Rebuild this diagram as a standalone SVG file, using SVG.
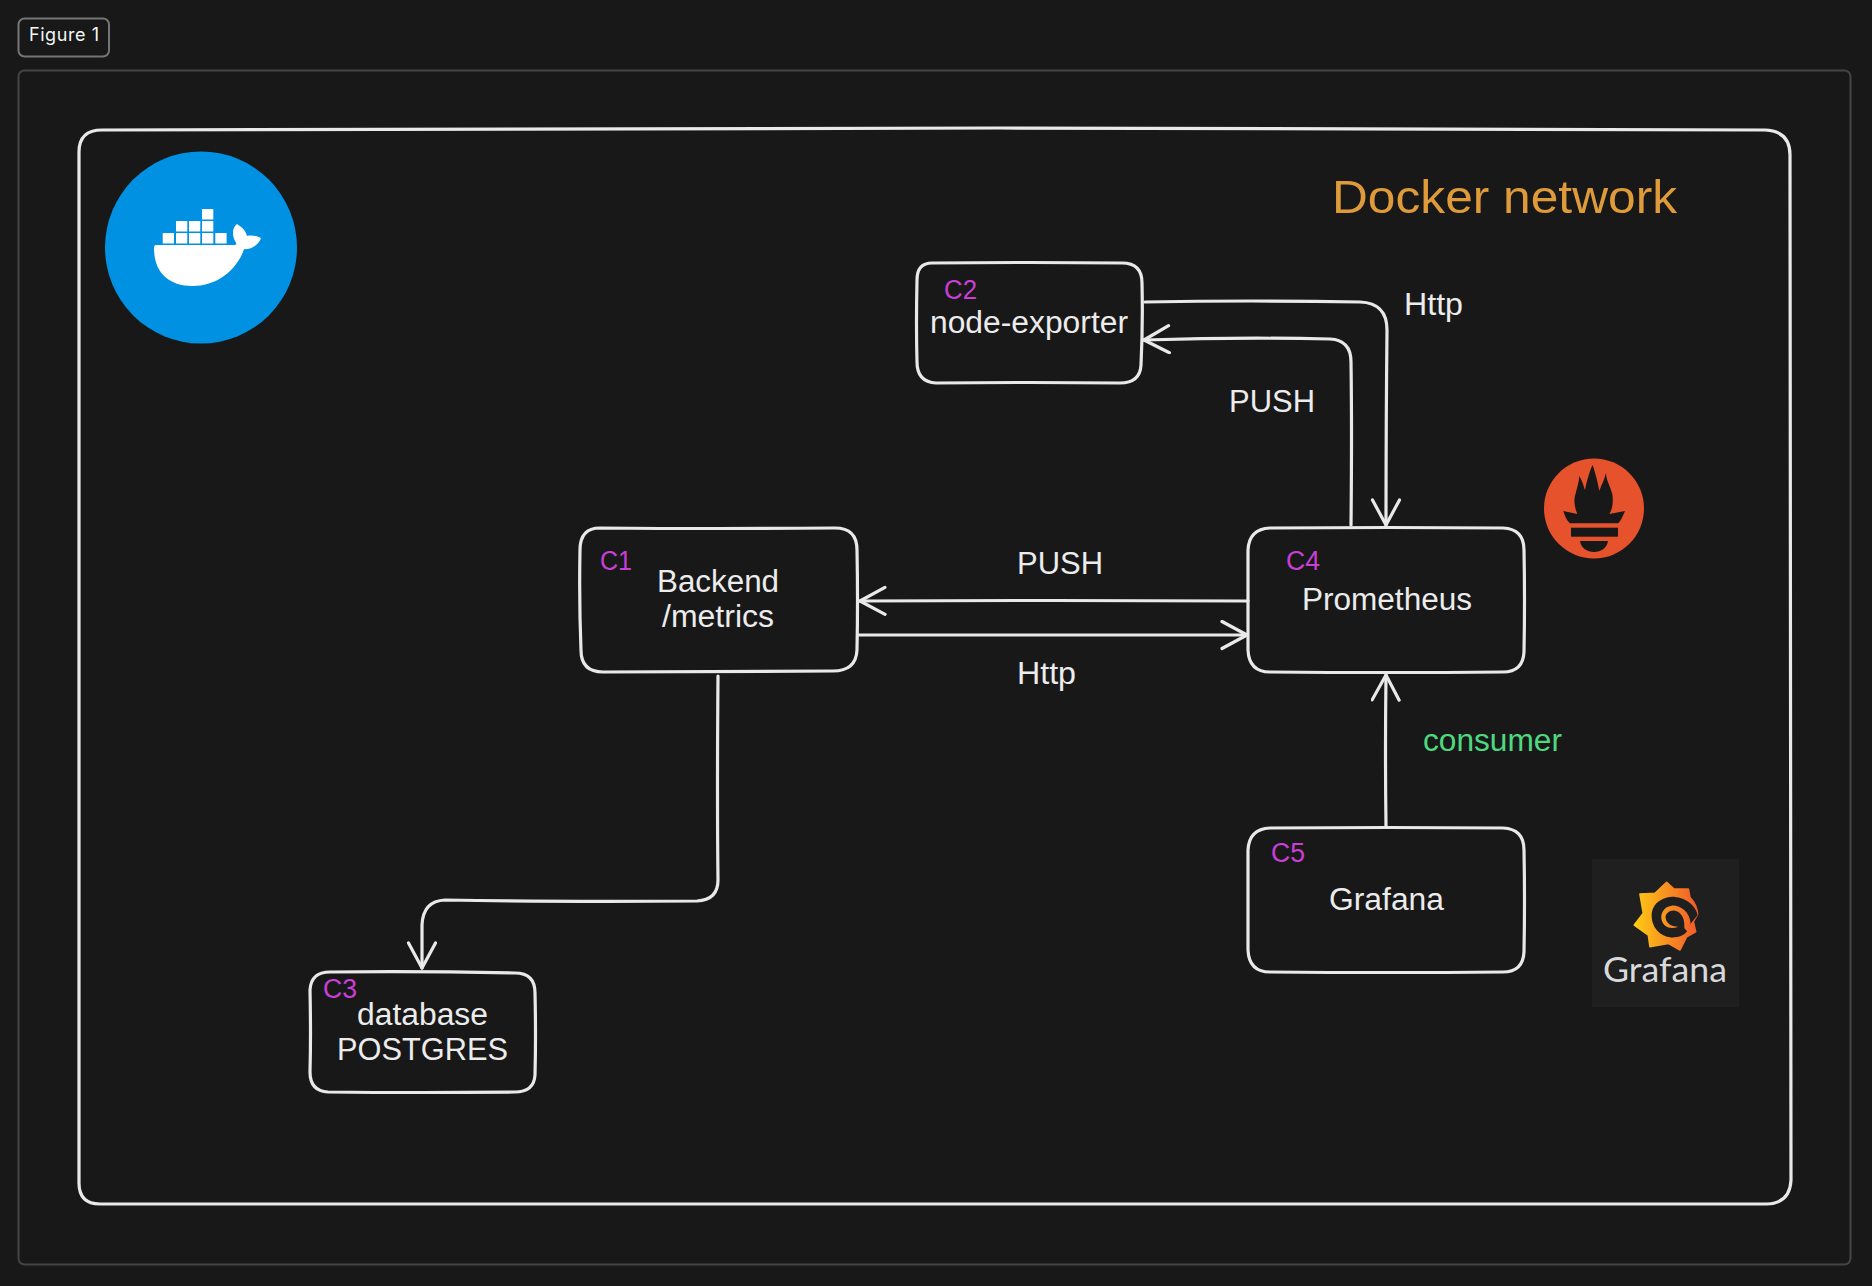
<svg xmlns="http://www.w3.org/2000/svg" width="1872" height="1286" viewBox="0 0 1872 1286">
<style>
.sk{fill:none;stroke:#e9e9e9;stroke-width:3.200;stroke-linecap:round;stroke-linejoin:round}
.t{font-family:"Liberation Sans",Arial,sans-serif;font-size:31px;fill:#ececec}
.c{font-family:"Liberation Sans",Arial,sans-serif;font-size:27px;fill:#c93fd6}
</style>
<defs>
<marker id="arrow" markerUnits="userSpaceOnUse" markerWidth="34" markerHeight="34" refX="27" refY="15" orient="auto">
<path d="M2 1.500 L27 15 L2 28.500" fill="none" stroke="#e9e9e9" stroke-width="3.200" stroke-linecap="round" stroke-linejoin="round"/>
</marker>
<linearGradient id="gr" gradientUnits="userSpaceOnUse" x1="28" x2="217" y1="0" y2="0"><stop offset="0" stop-color="#ffcb15"/><stop offset="1" stop-color="#f15a2b"/></linearGradient>
</defs>
<rect width="1872" height="1286" fill="#181818"/>
<g id="figure-badge">
<rect x="18.500" y="18.500" width="90.500" height="38" rx="6" fill="none" stroke="#757575" stroke-width="2"/>
<text x="29" y="41" font-family="Inter,sans-serif" font-size="18" fill="#f5f5f5" textLength="70">Figure 1</text>
</g>
<rect id="frame" x="18.500" y="70.500" width="1832" height="1194" rx="6" fill="none" stroke="#444" stroke-width="2"/>
<g id="docker-network">
<path class="sk" d="M102 130 Q600 127 1000 128 Q1400 128 1765 130 Q1790 131 1790 155 Q1792 600 1791 1180 Q1790 1203 1767 1204 Q1400 1205 1000 1204 Q500 1203 100 1204 Q79 1204 79 1183 Q77 700 79 152 Q79 130 102 130Z"/>
<text x="1332" y="213" font-family="Liberation Sans,Arial,sans-serif" font-size="47" fill="#df9b3a" textLength="345" lengthAdjust="spacingAndGlyphs">Docker network</text>
</g>
<g id="docker-logo">
<circle cx="201" cy="247.500" r="96" fill="#0091e2"/>
<g fill="#fff">
<rect x="162.700" y="233" width="11.300" height="10.500"/><rect x="176" y="233" width="11.300" height="10.500"/><rect x="189" y="233" width="11.300" height="10.500"/><rect x="202" y="233" width="11.300" height="10.500"/><rect x="215.300" y="233" width="11.300" height="10.500"/>
<rect x="176" y="221" width="11.300" height="10.500"/><rect x="189" y="221" width="11.300" height="10.500"/><rect x="202" y="221" width="11.300" height="10.500"/>
<rect x="202" y="209" width="11.300" height="10.500"/>
<path d="M156 245 L233 245 C238 245 236 243 235 241 C232 235 232 228 237 224 C242 227 246 231 247 236 C252 235 258 236 261 238.300 C259 244 253 249 244 249.300 C236 272 215 286 193 286 C166 286 154 270 154 248 Q154 245 156 245Z"/>
</g>
</g>
<g id="connectors">
<path class="sk" d="M1145 302 Q1250 300 1360 302 Q1387 303 1387 330 Q1386 430 1386 525" marker-end="url(#arrow)"/>
<path class="sk" d="M1351 525 Q1352 430 1351 362 Q1351 340 1330 339 Q1240 337 1144 340" marker-end="url(#arrow)"/>
<path class="sk" d="M1248 601 Q1050 600 860 601" marker-end="url(#arrow)"/>
<path class="sk" d="M859 635 Q1050 635 1247 635" marker-end="url(#arrow)"/>
<path class="sk" d="M718 676 Q717 800 718 880 Q718 900 697 901 Q560 902 445 900 Q423 901 422 925 Q422 945 422 968" marker-end="url(#arrow)"/>
<path class="sk" d="M1386 826 Q1385 750 1386 675" marker-end="url(#arrow)"/>
</g>
<g id="c2">
<path class="sk" d="M932 263 Q1030 262 1122 263 Q1142 263 1142 283 Q1143 325 1141 365 Q1140 383 1120 383 Q1030 382 936 383 Q917 382 917 362 Q916 325 917 280 Q917 263 932 263Z"/>
<text class="c" x="944" y="299" textLength="33" lengthAdjust="spacingAndGlyphs">C2</text>
<text class="t" x="930" y="333" textLength="198" lengthAdjust="spacingAndGlyphs">node-exporter</text>
</g>
<g id="c1">
<path class="sk" d="M600 528 Q720 529 835 528 Q857 528 857 550 Q858 600 857 650 Q856 671 833 671 Q720 671 603 672 Q581 672 581 650 Q579 600 580 550 Q580 528 600 528Z"/>
<text class="c" x="600" y="570" textLength="32" lengthAdjust="spacingAndGlyphs">C1</text>
<text class="t" x="657" y="592" textLength="122" lengthAdjust="spacingAndGlyphs">Backend</text>
<text class="t" x="662" y="627" textLength="112" lengthAdjust="spacingAndGlyphs">/metrics</text>
</g>
<g id="c3">
<path class="sk" d="M330 972 Q420 971 515 973 Q535 973 535 993 Q536 1035 535 1075 Q534 1092 515 1092 Q420 1093 328 1092 Q310 1091 310 1072 Q311 1035 310 990 Q311 972 330 972Z"/>
<text class="c" x="323" y="998" textLength="34" lengthAdjust="spacingAndGlyphs">C3</text>
<text class="t" x="357" y="1025" textLength="131" lengthAdjust="spacingAndGlyphs">database</text>
<text class="t" x="337" y="1060" textLength="171" lengthAdjust="spacingAndGlyphs">POSTGRES</text>
</g>
<g id="c4">
<path class="sk" d="M1270 528 Q1390 527 1503 528 Q1524 529 1524 550 Q1525 600 1524 652 Q1523 672 1503 672 Q1390 673 1270 672 Q1249 672 1248 650 Q1248 600 1248 550 Q1249 529 1270 528Z"/>
<text class="c" x="1286" y="570" textLength="34" lengthAdjust="spacingAndGlyphs">C4</text>
<text class="t" x="1302" y="610" textLength="170" lengthAdjust="spacingAndGlyphs">Prometheus</text>
</g>
<g id="c5">
<path class="sk" d="M1270 828 Q1390 827 1503 828 Q1524 829 1524 850 Q1525 900 1524 952 Q1523 972 1503 972 Q1390 973 1270 972 Q1249 972 1248 950 Q1248 900 1248 850 Q1249 829 1270 828Z"/>
<text class="c" x="1271" y="862" textLength="34" lengthAdjust="spacingAndGlyphs">C5</text>
<text class="t" x="1329" y="910" textLength="115" lengthAdjust="spacingAndGlyphs">Grafana</text>
</g>
<g id="labels">
<text class="t" x="1404" y="315" textLength="59" lengthAdjust="spacingAndGlyphs">Http</text>
<text class="t" x="1229" y="412" textLength="86" lengthAdjust="spacingAndGlyphs">PUSH</text>
<text class="t" x="1017" y="574" textLength="86" lengthAdjust="spacingAndGlyphs">PUSH</text>
<text class="t" x="1017" y="684" textLength="59" lengthAdjust="spacingAndGlyphs">Http</text>
<text class="t" x="1423" y="751" textLength="139" lengthAdjust="spacingAndGlyphs" style="fill:#4fd87f">consumer</text>
</g>
<g id="prometheus-logo">
<circle cx="1594" cy="508.500" r="50" fill="#e6522c"/>
<g fill="#181818">
<rect x="1571" y="527.700" width="47" height="9"/>
<path d="M1580 541 H1608 C1607 548 1601 552 1594 552 C1587 552 1581 548 1580 541Z"/>
<path d="M1563.300 511 L1577.300 514 C1574 506 1574 499 1575 496 C1577 488 1579 482 1579.300 476 C1583 482 1584 488 1585 490 C1587 480 1590 470 1592.700 465 C1595 472 1598 483 1599.300 490.700 C1602 484 1605 478 1606 472.700 C1606 482 1613 490 1612.700 498 C1613 504 1612 510 1609.300 514 L1625 511 C1622 518 1620 522 1618 523.300 H1570 C1567 521 1565 516 1563.300 511Z"/>
</g>
</g>
<g id="grafana-logo">
<rect x="1592" y="859" width="147" height="148" fill="#1f1f1f"/>
<g transform="translate(1625 875) scale(.3333)">
<path d="M125 22 L147 42 L190 42 L195 68 Q215 88 218 118 L205 140 L212 170 L185 185 L165 225 L130 205 L75 215 L70 180 L28 150 L55 115 L45 57 L90 55Z" fill="url(#gr)" stroke="url(#gr)" stroke-width="5" stroke-linejoin="round"/>
<path d="M218 120 C212 90 180 65 140 65 C100 68 78 95 80 125 C82 165 115 190 150 187 C165 186 178 180 187 168 L197 146Z" fill="#1f1f1f"/>
<path d="M197 146 C195 110 165 90 140 92 C115 95 105 118 110 135 C115 155 135 165 160 155 C145 155 125 150 122 130 C120 115 135 105 150 107 C170 112 180 130 178 160 L188 170Z" fill="url(#gr)"/>
</g>
<text x="1603" y="982" font-family="Lato,sans-serif" font-size="34" fill="#d8d9da" textLength="124" lengthAdjust="spacingAndGlyphs">Grafana</text>
</g>
</svg>
